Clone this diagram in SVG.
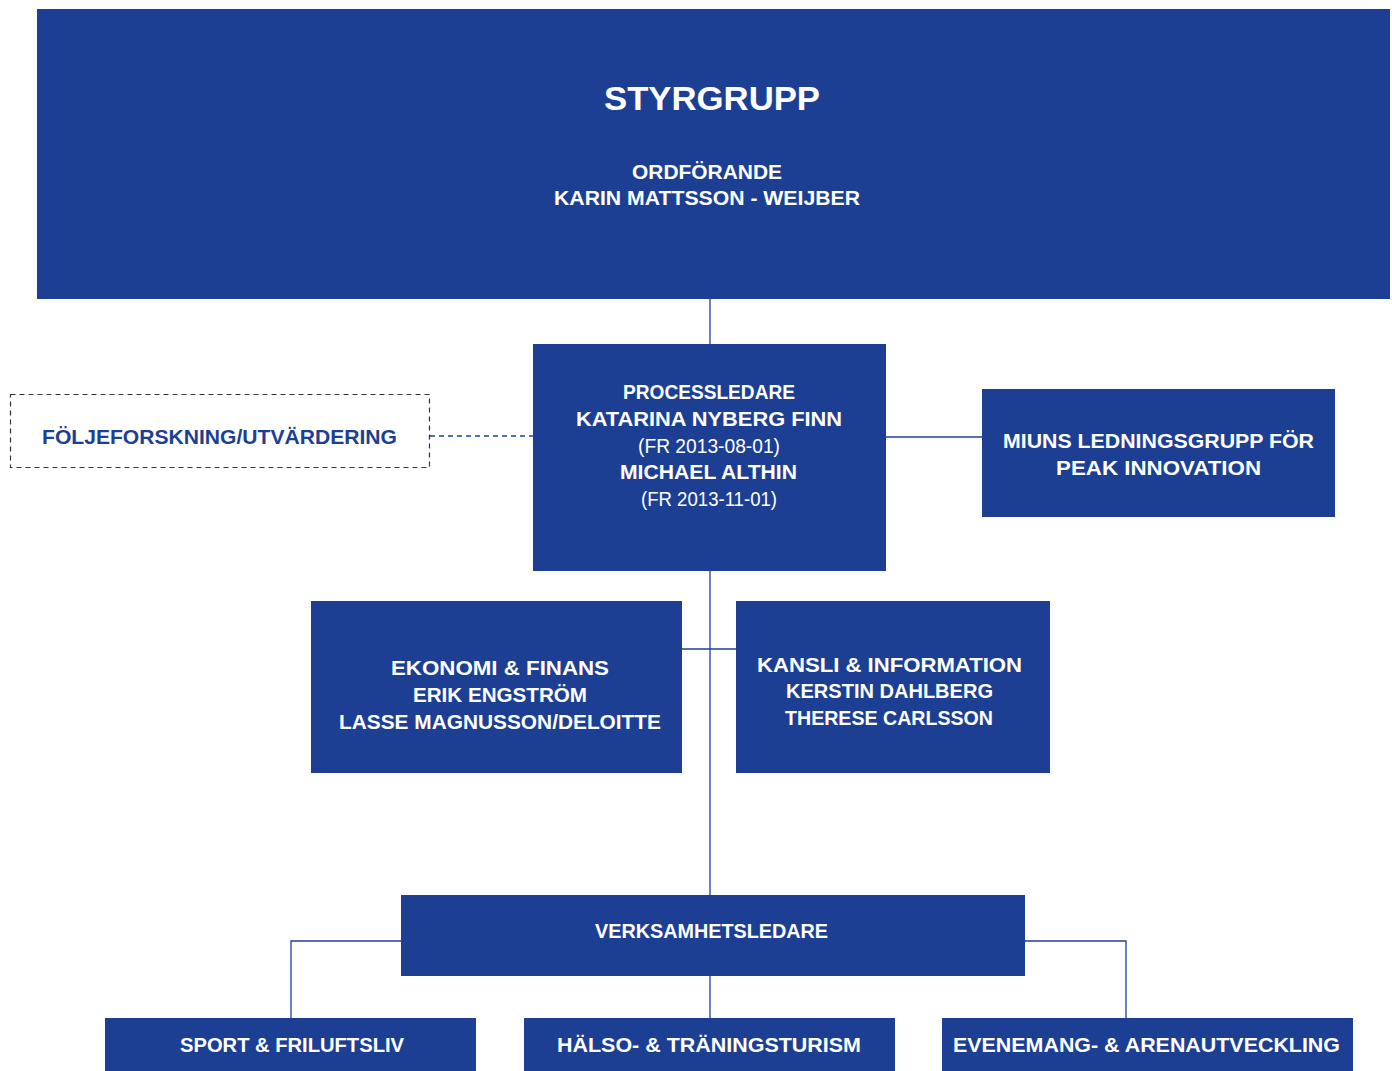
<svg xmlns="http://www.w3.org/2000/svg" width="1392" height="1071" viewBox="0 0 1392 1071">
<style>
.box{fill:#1c3f94}
.t{font-family:"Liberation Sans",Arial,sans-serif;font-weight:bold;font-size:19.5px;fill:#fff;text-anchor:middle}
.l{font-weight:normal}
.c{fill:none;stroke:#1c3f94;stroke-width:1.3}
</style>
<rect width="1392" height="1071" fill="#fff"/>
<g id="connectors">
<line class="c" x1="710" y1="299" x2="710" y2="344"/>
<line class="c" x1="710" y1="571" x2="710" y2="895"/>
<line class="c" x1="682" y1="649" x2="736" y2="649"/>
<line class="c" x1="886" y1="437" x2="982" y2="437"/>
<line class="c" x1="430" y1="436" x2="533" y2="436" stroke-dasharray="5,4"/>
<polyline class="c" points="401,941 291,941 291,1018"/>
<polyline class="c" points="1025,941 1126,941 1126,1018"/>
<line class="c" x1="710" y1="976" x2="710" y2="1018"/>
</g>
<g id="styrgrupp">
<rect class="box" x="37" y="9" width="1353" height="290"/>
<text class="t" x="712" y="110" style="font-size:34px" textLength="216" lengthAdjust="spacingAndGlyphs">STYRGRUPP</text>
<text class="t" x="707" y="179" textLength="150" lengthAdjust="spacingAndGlyphs">ORDFÖRANDE</text>
<text class="t" x="707" y="205" textLength="306" lengthAdjust="spacingAndGlyphs">KARIN MATTSSON - WEIJBER</text>
</g>
<g id="foljeforskning">
<rect x="10.5" y="394.5" width="419" height="73" fill="none" stroke="#333" stroke-width="1.2" stroke-dasharray="5,4"/>
<text class="t" x="219.5" y="444" style="fill:#1c3f94" textLength="355" lengthAdjust="spacingAndGlyphs">FÖLJEFORSKNING/UTVÄRDERING</text>
</g>
<g id="processledare">
<rect class="box" x="533" y="344" width="353" height="227"/>
<text class="t" x="709" y="399" textLength="172" lengthAdjust="spacingAndGlyphs">PROCESSLEDARE</text>
<text class="t" x="709" y="426" textLength="266" lengthAdjust="spacingAndGlyphs">KATARINA NYBERG FINN</text>
<text class="t l" x="709" y="453" textLength="142" lengthAdjust="spacingAndGlyphs">(FR 2013-08-01)</text>
<text class="t" x="708.5" y="479" textLength="177" lengthAdjust="spacingAndGlyphs">MICHAEL ALTHIN</text>
<text class="t l" x="709" y="506" textLength="136" lengthAdjust="spacingAndGlyphs">(FR 2013-11-01)</text>
</g>
<g id="miun">
<rect class="box" x="982" y="389" width="353" height="128"/>
<text class="t" x="1158.5" y="448" textLength="311" lengthAdjust="spacingAndGlyphs">MIUNS LEDNINGSGRUPP FÖR</text>
<text class="t" x="1158.5" y="475" textLength="205" lengthAdjust="spacingAndGlyphs">PEAK INNOVATION</text>
</g>
<g id="ekonomi">
<rect class="box" x="311" y="601" width="371" height="172"/>
<text class="t" x="500" y="675" textLength="218" lengthAdjust="spacingAndGlyphs">EKONOMI &amp; FINANS</text>
<text class="t" x="500" y="702" textLength="174" lengthAdjust="spacingAndGlyphs">ERIK ENGSTRÖM</text>
<text class="t" x="500" y="729" textLength="322" lengthAdjust="spacingAndGlyphs">LASSE MAGNUSSON/DELOITTE</text>
</g>
<g id="kansli">
<rect class="box" x="736" y="601" width="314" height="172"/>
<text class="t" x="889.5" y="672" textLength="265" lengthAdjust="spacingAndGlyphs">KANSLI &amp; INFORMATION</text>
<text class="t" x="889.5" y="698" textLength="207" lengthAdjust="spacingAndGlyphs">KERSTIN DAHLBERG</text>
<text class="t" x="889" y="725" textLength="208" lengthAdjust="spacingAndGlyphs">THERESE CARLSSON</text>
</g>
<g id="verksamhetsledare">
<rect class="box" x="401" y="895" width="624" height="81"/>
<text class="t" x="711.5" y="938" textLength="233" lengthAdjust="spacingAndGlyphs">VERKSAMHETSLEDARE</text>
</g>
<g id="sport">
<rect class="box" x="105" y="1018" width="371" height="53"/>
<text class="t" x="292" y="1052" textLength="224" lengthAdjust="spacingAndGlyphs">SPORT &amp; FRILUFTSLIV</text>
</g>
<g id="halso">
<rect class="box" x="524" y="1018" width="371" height="53"/>
<text class="t" x="709" y="1052" textLength="304" lengthAdjust="spacingAndGlyphs">HÄLSO- &amp; TRÄNINGSTURISM</text>
</g>
<g id="evenemang">
<rect class="box" x="942" y="1018" width="411" height="53"/>
<text class="t" x="1146.5" y="1052" textLength="387" lengthAdjust="spacingAndGlyphs">EVENEMANG- &amp; ARENAUTVECKLING</text>
</g>
</svg>
